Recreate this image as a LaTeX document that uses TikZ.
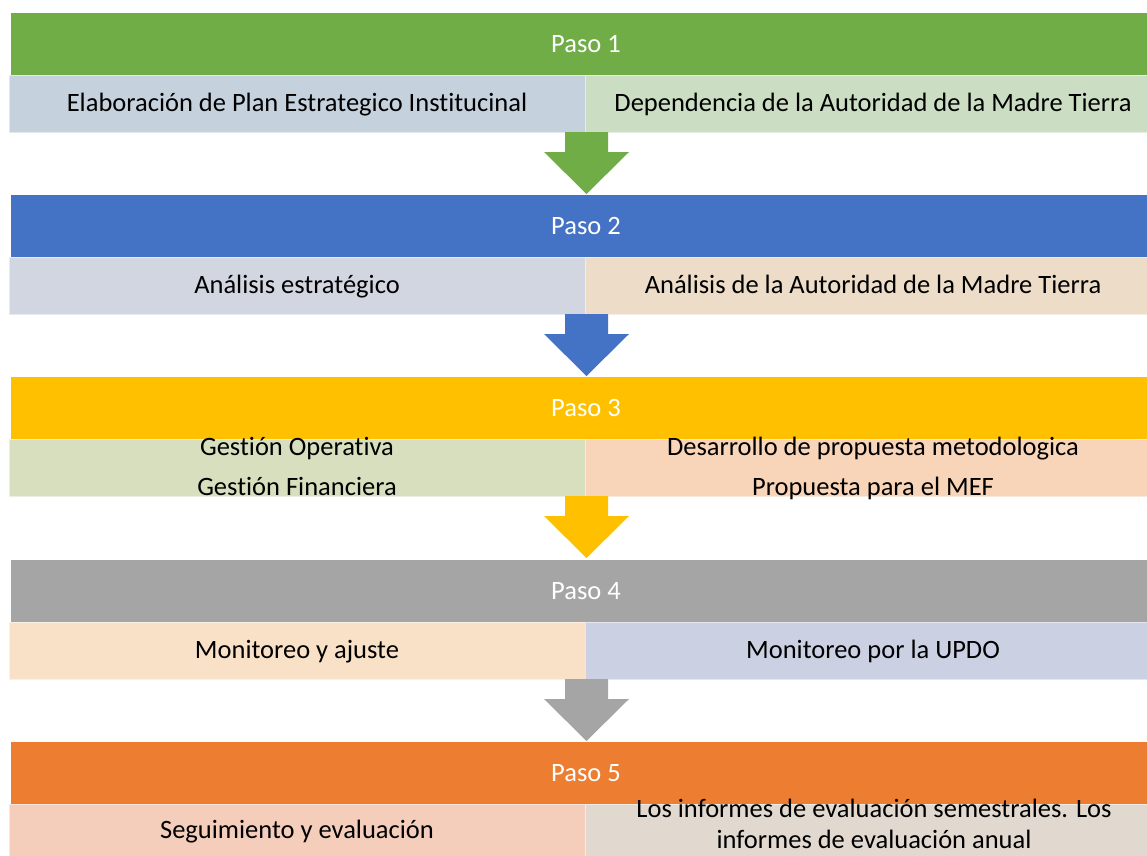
\documentclass[tikz,border=0pt]{standalone}
\usepackage{fontspec}
\setmainfont[Ligatures=NoCommon]{Carlito}
\usepackage{tikz}
\definecolor{verde}{HTML}{70AD47}
\definecolor{azul}{HTML}{4472C4}
\definecolor{oro}{HTML}{FFC000}
\definecolor{gris}{HTML}{A5A5A5}
\definecolor{naranja}{HTML}{ED7D31}
\definecolor{unoL}{HTML}{C5D1DD}
\definecolor{unoR}{HTML}{CBDEC3}
\definecolor{dosL}{HTML}{D2D6E0}
\definecolor{dosR}{HTML}{ECDCC8}
\definecolor{tresL}{HTML}{D8DFBE}
\definecolor{tresR}{HTML}{F8D4B8}
\definecolor{cuatroL}{HTML}{F8E1C7}
\definecolor{cuatroR}{HTML}{CBD0E3}
\definecolor{cincoL}{HTML}{F4CDBB}
\definecolor{cincoR}{HTML}{E1D9CF}

\begin{document}
\begin{tikzpicture}[x=1pt,y=-1pt]
\tikzset{paso/.style={rectangle,inner sep=0pt,minimum width=1150pt,minimum height=62pt,fill=#1},
caja/.style={rectangle,inner sep=0pt,minimum width=576pt,minimum height=57pt,fill=#1,draw=#1!50!white,line width=1pt},
txt/.style={inner sep=0pt,anchor=base,text=black,font=\fontsize{26.5}{32}\selectfont},
blanco/.style={txt,text=white}}
\clip (0,0) rectangle (1147,855);

% Paso 1
\node (p1) at (586,44) [paso=verde] {};
\node (p1l) at (297,103.5) [caja=unoL] {};
\node (p1r) at (873,103.5) [caja=unoR] {};
\node (h1) at (586,52) [blanco] {Paso 1};
\node (t1l) at (297,111) [txt] {Elaboración de Plan Estrategico Institucinal};
\node (t1r) at (873,111) [txt] {Dependencia de la Autoridad de la Madre Tierra};
\fill[verde] (565,132) -- (608,132) -- (608,152) -- (629,152) -- (586.5,194) -- (544,152) -- (565,152) -- cycle;

% Paso 2
\node (p2) at (586,226) [paso=azul] {};
\node (p2l) at (297,285.5) [caja=dosL] {};
\node (p2r) at (873,285.5) [caja=dosR] {};
\node (h2) at (586,234) [blanco] {Paso 2};
\node (t2l) at (297,293) [txt] {Análisis estratégico};
\node (t2r) at (873,293) [txt] {Análisis de la Autoridad de la Madre Tierra};
\fill[azul] (565,314) -- (608,314) -- (608,334) -- (629,334) -- (586.5,376) -- (544,334) -- (565,334) -- cycle;

% Paso 3
\node (p3) at (586,408) [paso=oro] {};
\node (p3l) at (297,467.5) [caja=tresL] {};
\node (p3r) at (873,467.5) [caja=tresR] {};
\node (h3) at (586,416) [blanco] {Paso 3};
\node (t3a) at (297,455) [txt] {Gestión Operativa};
\node (t3b) at (297,495) [txt] {Gestión Financiera};
\node (t3c) at (873,455) [txt] {Desarrollo de propuesta metodologica};
\node (t3d) at (873,495) [txt] {Propuesta para el MEF};
\fill[oro] (565,496) -- (608,496) -- (608,516) -- (629,516) -- (586.5,558) -- (544,516) -- (565,516) -- cycle;

% Paso 4
\node (p4) at (586,591) [paso=gris] {};
\node (p4l) at (297,650.5) [caja=cuatroL] {};
\node (p4r) at (873,650.5) [caja=cuatroR] {};
\node (h4) at (586,599) [blanco] {Paso 4};
\node (t4l) at (297,658) [txt] {Monitoreo y ajuste};
\node (t4r) at (873,658) [txt] {Monitoreo por la UPDO};
\fill[gris] (565,679) -- (608,679) -- (608,699) -- (629,699) -- (586.5,741) -- (544,699) -- (565,699) -- cycle;

% Paso 5
\node (p5) at (586,773) [paso=naranja] {};
\node (p5l) at (297,832.5) [caja=cincoL] {};
\node (p5r) at (873,832.5) [caja=cincoR] {};
\node (h5) at (586,781) [blanco] {Paso 5};
\node (t5l) at (297,838) [txt] {Seguimiento y evaluación};
\node (t5a) at (874,817) [txt] {Los informes de evaluación semestrales. Los};
\node (t5b) at (874,848) [txt] {informes de evaluación anual};
\end{tikzpicture}
\end{document}
